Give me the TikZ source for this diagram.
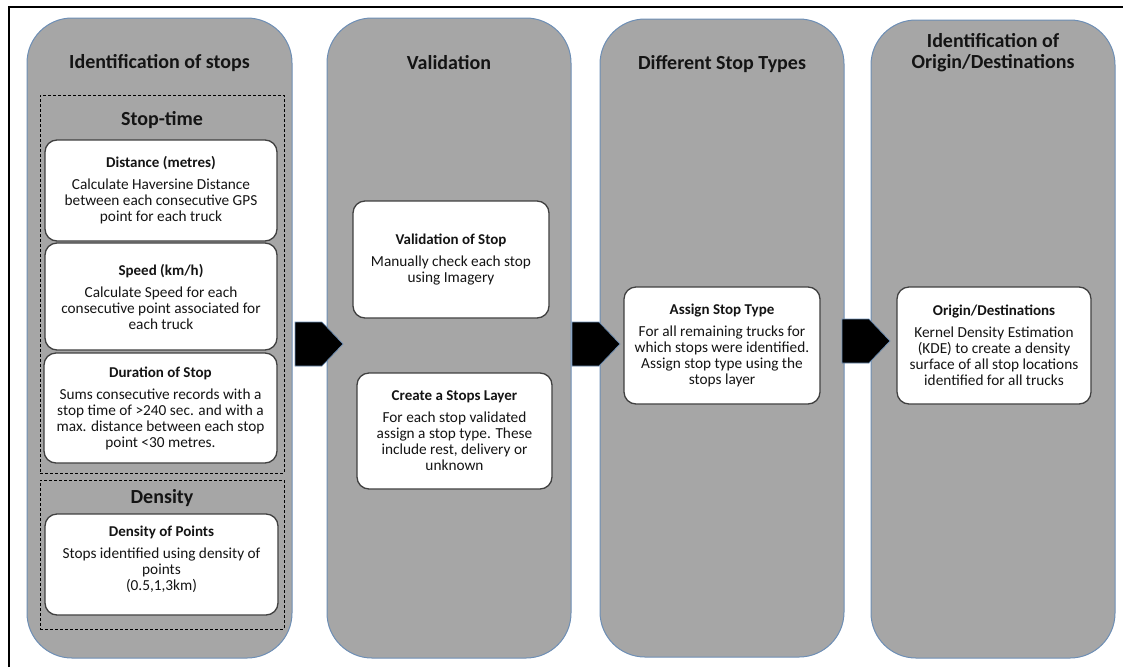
\documentclass[tikz,border=0pt]{standalone}
\usepackage{fontspec}
\setmainfont{Carlito}
\usetikzlibrary{calc}
\definecolor{colfill}{RGB}{166,166,166}
\definecolor{colline}{RGB}{109,142,181}
\definecolor{boxline}{RGB}{64,64,64}
\definecolor{txt}{RGB}{20,20,20}
\tikzset{
  column/.style={draw=colline, fill=colfill, line width=1pt, rounded corners=45pt, inner sep=0pt},
  head/.style={font=\bfseries\fontsize{20}{21}\selectfont, text=txt, align=center, inner sep=0pt},
  subhead/.style={font=\bfseries\fontsize{20}{21}\selectfont, text=txt, inner sep=0pt},
  dashbox/.style={draw=black, dash pattern=on 3pt off 2pt, line width=0.8pt, inner sep=0pt},
  stepbox/.style={draw=boxline, fill=white, line width=1.3pt, rounded corners=12pt, inner sep=0pt,
    align=center, text=txt, font=\fontsize{15.3}{16}\selectfont},
  pics/blockarrow/.style={code={\filldraw[fill=black, draw=colline, line width=0.7pt]
    (0,-22) -- (27,-22) -- (48,0) -- (27,22) -- (0,22) -- cycle;}}
}
\newcommand{\ttl}[1]{{\bfseries\fontsize{15}{16}\selectfont #1}\\[6pt]}
\begin{document}
\begin{tikzpicture}[x=1pt,y=-1pt]
\useasboundingbox (0,0) rectangle (1123,667);
% outer frame
\draw[line width=2pt] (9,667) -- (9,7) -- (1123,7);
% columns
\node[column, minimum width=265pt, minimum height=640pt] (c1) at (159.5,338) {};
\node[column, minimum width=244pt, minimum height=640pt] (c2) at (449,338) {};
\node[column, minimum width=244pt, minimum height=638pt] (c3) at (722,338) {};
\node[column, minimum width=244pt, minimum height=638pt] (c4) at (993,339) {};
% headers
\node[head] (h1) at (159.5,63) {Identification of stops};
\node[head] (h2) at (449,63) {Validation};
\node[head] (h3) at (722,64) {Different Stop Types};
\node[head] (h4) at (993,53) {Identification of\\Origin/Destinations};
% dashed groups
\node[dashbox, minimum width=244pt, minimum height=378pt] (g1) at (162,284) {};
\node[dashbox, minimum width=244pt, minimum height=149pt] (g2) at (162,554.5) {};
\node[subhead] (s1) at (162,120) {Stop-time};
\node[subhead] (s2) at (162,498) {Density};
% boxes column 1
\node[stepbox, minimum width=232pt, minimum height=101pt] (b1) at (161,190.5)
  {\ttl{Distance (metres)}Calculate Haversine Distance\\between each consecutive GPS\\point for each truck};
\node[stepbox, minimum width=232pt, minimum height=107pt] (b2) at (161,296.5)
  {\ttl{Speed (km/h)}Calculate Speed for each\\consecutive point associated for\\each truck};
\node[stepbox, minimum width=233pt, minimum height=110pt] (b3) at (160.5,408)
  {\ttl{Duration of Stop}Sums consecutive records with a\\stop time of >240 sec. and with a\\max. distance between each stop\\point <30 metres.};
\node[stepbox, minimum width=233pt, minimum height=101pt] (b4) at (161.5,564.5)
  {\ttl{Density of Points}Stops identified using density of\\points\\(0.5,1,3km)\\[-4pt]};
% boxes column 2
\node[stepbox, minimum width=196pt, minimum height=117pt] (v1) at (451,259.5)
  {\ttl{Validation of Stop}Manually check each stop\\using Imagery};
\node[stepbox, minimum width=195pt, minimum height=116pt] (v2) at (454.5,431)
  {\ttl{Create a Stops Layer}For each stop validated\\assign a stop type. These\\include rest, delivery or\\unknown};
% column 3
\node[stepbox, minimum width=196pt, minimum height=117pt] (t1) at (722,345.5)
  {\ttl{Assign Stop Type}For all remaining trucks for\\which stops were identified.\\Assign stop type using the\\stops layer};
% column 4
\node[stepbox, minimum width=194pt, minimum height=117pt] (o1) at (994,345.5)
  {\ttl{Origin/Destinations}Kernel Density Estimation\\(KDE) to create a density\\surface of all stop locations\\identified for all trucks};
% block arrows
\pic at (295,344) {blockarrow};
\pic at (572,344) {blockarrow};
\pic at (842,341) {blockarrow};
\end{tikzpicture}
\end{document}
